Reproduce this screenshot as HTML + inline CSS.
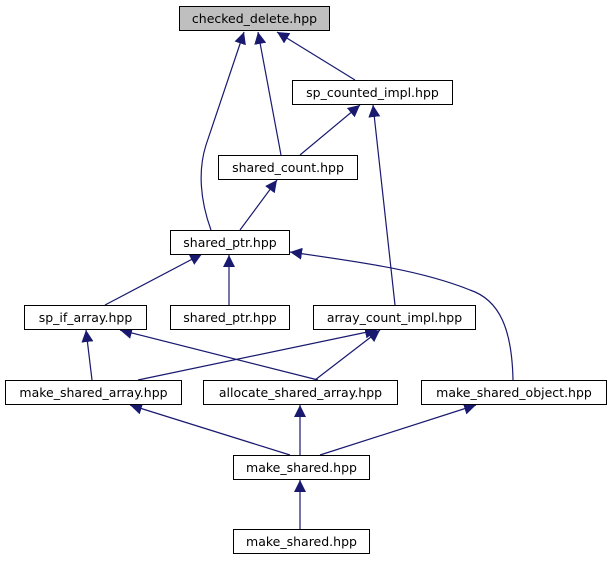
<!DOCTYPE html>
<html><head><meta charset="utf-8"><style>
body{margin:0;background:#fff;}
svg text{font-family:"DejaVu Sans","Liberation Sans",sans-serif;font-size:12.5px;fill:#000;text-anchor:middle;}
</style></head><body>
<svg width="611" height="560" viewBox="0 0 611 560" xmlns="http://www.w3.org/2000/svg">
<defs><marker id="a" viewBox="0 0 10 10" refX="10" refY="5" markerWidth="12" markerHeight="12" markerUnits="userSpaceOnUse" orient="auto"><path d="M0,0 L10,5 L0,10 z" fill="#191970"/></marker></defs>
<g stroke="#191970" stroke-width="1.2" fill="none" marker-end="url(#a)">
<path d="M355,80 L277,32"/>
<path d="M281,155 L258,32"/>
<path d="M211,230 C200,200 198,170 206,145 L244,32"/>
<path d="M300,155 L360,105"/>
<path d="M395,305 L373,105"/>
<path d="M240,230 L277,180"/>
<path d="M105,305 L202,254"/>
<path d="M229,305 L229,255"/>
<path d="M513,380 C512,330 500,300 470,290 C420,270 360,262 290,252"/>
<path d="M92,380 L86,330"/>
<path d="M318,380 L120,330"/>
<path d="M138,380 L377,330"/>
<path d="M315,380 L380,330"/>
<path d="M290,455 L130,405"/>
<path d="M300,455 L300,405"/>
<path d="M320,455 L476,405"/>
<path d="M300,529 L300,480"/>
</g>
<g stroke="#000" stroke-width="1" fill="#fff">
<rect x="179.5" y="6.5" width="150" height="24" fill="#bfbfbf"/>
<rect x="292.5" y="80.5" width="160" height="24"/>
<rect x="218.5" y="155.5" width="139" height="24"/>
<rect x="170.5" y="230.5" width="119" height="24"/>
<rect x="24.5" y="305.5" width="122" height="24"/>
<rect x="170.5" y="305.5" width="119" height="24"/>
<rect x="313.5" y="305.5" width="162" height="24"/>
<rect x="5.5" y="380.5" width="176" height="24"/>
<rect x="203.5" y="380.5" width="194" height="24"/>
<rect x="421.5" y="380.5" width="185" height="24"/>
<rect x="233.5" y="455.5" width="136" height="24"/>
<rect x="233.5" y="529.5" width="136" height="24"/>
</g>
<text x="254.5" y="23">checked_delete.hpp</text>
<text x="372.5" y="97">sp_counted_impl.hpp</text>
<text x="288" y="172">shared_count.hpp</text>
<text x="230" y="247">shared_ptr.hpp</text>
<text x="85.5" y="322">sp_if_array.hpp</text>
<text x="230" y="322">shared_ptr.hpp</text>
<text x="394.5" y="322">array_count_impl.hpp</text>
<text x="93.5" y="397">make_shared_array.hpp</text>
<text x="300.5" y="397">allocate_shared_array.hpp</text>
<text x="514" y="397">make_shared_object.hpp</text>
<text x="301.5" y="472">make_shared.hpp</text>
<text x="301.5" y="546">make_shared.hpp</text>
</svg>
</body></html>
